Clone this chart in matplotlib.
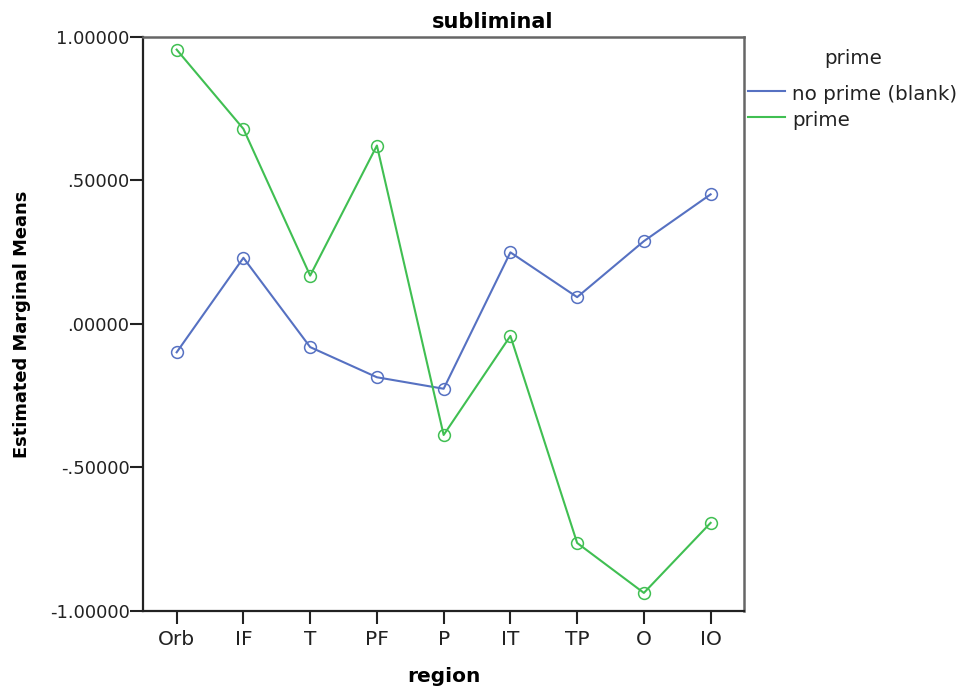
import matplotlib
matplotlib.use("Agg")
import matplotlib.pyplot as plt
from matplotlib.ticker import FuncFormatter
from matplotlib.lines import Line2D

regions = ["Orb", "IF", "T", "PF", "P", "IT", "TP", "O", "IO"]
no_prime = [-0.099, 0.230, -0.081, -0.186, -0.226, 0.249, 0.093, 0.288, 0.451]
prime = [0.955, 0.679, 0.168, 0.621, -0.387, -0.042, -0.763, -0.937, -0.693]
series_names = ["no prime (blank)", "prime"]
colors = ["#5671c2", "#40bf52"]
y_ticks = [-1.0, -0.5, 0.0, 0.5, 1.0]

plt.rcParams['font.family'] = ['DejaVu Sans']

W, H = 963, 689
fig = plt.figure(figsize=(W/100, H/100), dpi=100)
ax = fig.add_axes([143.3/W, 1-611/H, (744-143.3)/W, (611-36.7)/H])

x = list(range(len(regions)))
for vals, name, c in zip([no_prime, prime], series_names, colors):
    ax.plot(x, vals, color=c, lw=1.5, marker='o', markersize=8.5,
            markerfacecolor='none', markeredgecolor=c, markeredgewidth=1.1, label=name)

ax.set_xlim(-0.5, len(regions) - 0.5)
ax.set_ylim(-1.0, 1.0)
ax.set_xticks(x)
ax.set_xticklabels(regions)
ax.set_yticks(y_ticks)

def fmt(v, pos):
    s = "%.5f" % v
    if s.startswith("0."):
        s = s[1:]
    elif s.startswith("-0."):
        s = "-" + s[2:]
    return s
ax.yaxis.set_major_formatter(FuncFormatter(fmt))
ax.tick_params(axis='both', direction='out', length=9.4, width=1.5,
               colors='#222222')
ax.tick_params(axis='y', labelsize=13, pad=0.5)
ax.tick_params(axis='x', labelsize=14.5, pad=4)

for side in ['left', 'bottom']:
    ax.spines[side].set_color('#222222')
    ax.spines[side].set_linewidth(1.6)
for side in ['top', 'right']:
    ax.spines[side].set_color('#666666')
    ax.spines[side].set_linewidth(1.8)

fig.text(493/W, 1-22/H, "subliminal", ha='center', va='center', fontsize=15, fontweight='bold')
fig.text(22/W, 1-324/H, "Estimated Marginal Means", ha='center', va='center',
         rotation=90, fontsize=12.9, fontweight='bold')
fig.text(444/W, 1-677/H, "region", ha='center', va='center', fontsize=14.5, fontweight='bold')

# legend
fig.text(853/W, 1-58/H, "prime", ha='center', va='center', fontsize=14.3, color='#222222')
for i, (name, c) in enumerate(zip(series_names, colors)):
    yl = 91 + 26*i
    fig.add_artist(Line2D([748/W, 785/W], [1-yl/H, 1-yl/H], color=c, lw=1.5,
                          transform=fig.transFigure))
    fig.text(792/W, 1-(yl+4)/H, name, ha='left', va='center', fontsize=14.3, color='#222222')

fig.savefig("out.png", dpi=100)
